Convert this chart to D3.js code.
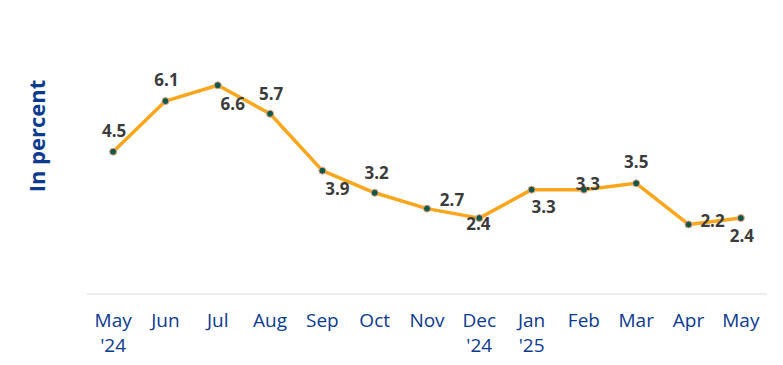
<!DOCTYPE html>
<html>
<head>
  <meta charset="utf-8">
  <title>Inflation, in percent</title>
  <style>
    body { margin: 0; background: white; font-family: "Open Sans", sans-serif; }
    svg { display: block; }
  </style>
  <script src="https://d3js.org/d3.v7.min.js"></script>
</head>
<body>
  <svg id="chart" width="783" height="365"></svg>
  <script>
    // Data
    const months = ["May '24", "Jun", "Jul", "Aug", "Sep", "Oct", "Nov", "Dec '24", "Jan '25", "Feb", "Mar", "Apr", "May"];
    const values = [4.5, 6.1, 6.6, 5.7, 3.9, 3.2, 2.7, 2.4, 3.3, 3.3, 3.5, 2.2, 2.4];
    // where each value label sits relative to its point (dx, dy of baseline)
    const labelOffsets = [[1, -15], [1, -15], [15, 25], [1, -14], [15, 24], [2, -14], [25, -3],
                          [-1, 12], [12, 23], [4, 0], [0, -15], [24, 3], [1, 24]];

    const svg = d3.select("#chart");
    const blue = "#0b3a8f";

    const x = d3.scaleBand()
      .domain(months)
      .range([87, 767]);

    const y = d3.scaleLinear()
      .domain([0, 8])
      .range([294, 41]);

    // baseline
    svg.append("line")
      .attr("x1", 87).attr("x2", 767)
      .attr("y1", y(0)).attr("y2", y(0))
      .attr("stroke", "#dcdcdc")
      .attr("stroke-width", 1);

    // x tick labels, year goes on a second line
    const ticks = svg.append("g")
      .attr("fill", blue)
      .attr("text-anchor", "middle")
      .style("font-size", "19px")
      .style("font-weight", 500);
    months.forEach(m => {
      const parts = m.split(" ");
      parts.forEach((p, i) => {
        ticks.append("text")
          .attr("x", x(m) + x.bandwidth() / 2)
          .attr("y", 327 + i * 25)
          .text(p);
      });
    });

    // y axis title
    svg.append("text")
      .attr("transform", "translate(45,136) rotate(-90)")
      .attr("text-anchor", "middle")
      .attr("fill", blue)
      .style("font-size", "22px")
      .style("font-weight", 700)
      .text("In percent");

    const cx = d => x(d.m) + x.bandwidth() / 2;
    const data = months.map((m, i) => ({ m, v: values[i], off: labelOffsets[i] }));

    // line
    svg.append("path")
      .datum(data)
      .attr("fill", "none")
      .attr("stroke", "#fba61c")
      .attr("stroke-width", 3.5)
      .attr("stroke-linejoin", "round")
      .attr("d", d3.line().x(cx).y(d => y(d.v)));

    // markers
    svg.selectAll("circle")
      .data(data)
      .enter().append("circle")
      .attr("cx", cx)
      .attr("cy", d => y(d.v))
      .attr("r", 3.5)
      .attr("fill", "#0b5a45")
      .attr("stroke", "#f2a283")
      .attr("stroke-width", 1);

    // value labels
    svg.selectAll("text.val")
      .data(data)
      .enter().append("text")
      .attr("class", "val")
      .attr("x", d => cx(d) + d.off[0])
      .attr("y", d => y(d.v) + d.off[1])
      .attr("text-anchor", "middle")
      .attr("fill", "#3b3b3b")
      .style("font-size", "17px")
      .style("font-weight", 700)
      .text(d => d3.format(".1f")(d.v));
  </script>
</body>
</html>
